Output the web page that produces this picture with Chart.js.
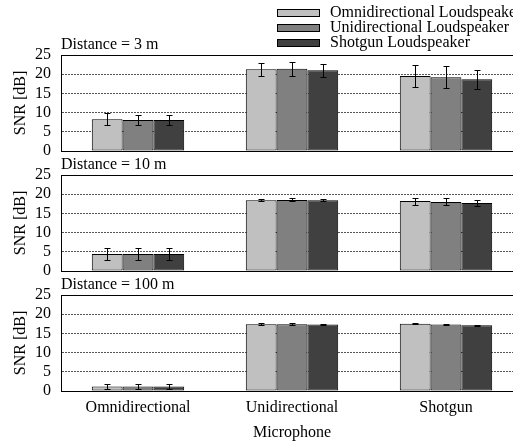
<!DOCTYPE html>
<html><head><meta charset="utf-8">
<script src="https://cdn.jsdelivr.net/npm/chart.js@4.4.1/dist/chart.umd.min.js"></script>
<style>
html,body{margin:0;padding:0;background:#fff;}
#wrap{position:relative;width:513px;height:442px;overflow:hidden;background:#fff;}
.pane{position:absolute;left:0;width:523px;}
canvas{display:block;}
</style></head><body>
<div id="wrap">
  <div class="pane" style="top:0;height:171px"><canvas id="c1" width="523" height="171"></canvas></div>
  <div class="pane" style="top:120px;height:171px"><canvas id="c2" width="523" height="171"></canvas></div>
  <div class="pane" style="top:240px;height:202px"><canvas id="c3" width="523" height="202"></canvas></div>
</div>
<script>
// ---- data ----
const categories = ['Omnidirectional', 'Unidirectional', 'Shotgun'];
const seriesLabels = ['Omnidirectional Loudspeaker', 'Unidirectional Loudspeaker', 'Shotgun Loudspeaker'];
const seriesColors = ['#c0c0c0', '#808080', '#404040'];
const panelTitles = ['Distance = 3 m', 'Distance = 10 m', 'Distance = 100 m'];
const xAxisTitle = 'Microphone';
const yAxisTitle = 'SNR [dB]';
const yTickValues = [0, 5, 10, 15, 20, 25];

// Distance = 3 m
const snr3Omni = [8.3, 21.3, 19.5];
const snr3Uni  = [8.1, 21.4, 19.2];
const snr3Shot = [8.1, 21.0, 18.7];
const err3Omni = [1.6, 1.7, 2.9];
const err3Uni  = [1.4, 1.8, 2.9];
const err3Shot = [1.4, 1.6, 2.5];

// Distance = 10 m
const snr10Omni = [4.4, 18.4, 18.2];
const snr10Uni  = [4.4, 18.5, 18.0];
const snr10Shot = [4.4, 18.4, 17.7];
const err10Omni = [1.5, 0.3, 0.9];
const err10Uni  = [1.5, 0.4, 0.9];
const err10Shot = [1.5, 0.3, 0.8];

// Distance = 100 m
const snr100Omni = [1.2, 17.4, 17.5];
const snr100Uni  = [1.2, 17.4, 17.35];
const snr100Shot = [1.2, 17.35, 17.1];
const err100Omni = [0.7, 0.2, 0.15];
const err100Uni  = [0.7, 0.2, 0.15];
const err100Shot = [0.7, 0.15, 0.2];

const panels = [
  { id: 'c1', title: panelTitles[0], values: [snr3Omni, snr3Uni, snr3Shot], errors: [err3Omni, err3Uni, err3Shot], legend: true, bottom: false },
  { id: 'c2', title: panelTitles[1], values: [snr10Omni, snr10Uni, snr10Shot], errors: [err10Omni, err10Uni, err10Shot], legend: false, bottom: false },
  { id: 'c3', title: panelTitles[2], values: [snr100Omni, snr100Uni, snr100Shot], errors: [err100Omni, err100Uni, err100Shot], legend: false, bottom: true }
];

// ---- styling ----
const FONT = "'Liberation Serif', 'Times New Roman', serif";
const FS = 16;
Chart.defaults.font.family = FONT;
Chart.defaults.font.size = FS;
Chart.defaults.color = '#000';

const errorBarPlugin = {
  id: 'errorBars',
  afterDatasetsDraw(chart) {
    const ctx = chart.ctx;
    const yScale = chart.scales.y;
    ctx.save();
    ctx.strokeStyle = '#000';
    ctx.lineWidth = 1;
    chart.data.datasets.forEach((ds, di) => {
      const meta = chart.getDatasetMeta(di);
      meta.data.forEach((bar, j) => {
        const v = ds.data[j], e = ds.errors[j];
        const x = Math.round(bar.x) + 0.5;
        const yt = Math.round(yScale.getPixelForValue(v + e)) + 0.5;
        const yb = Math.round(yScale.getPixelForValue(v - e)) + 0.5;
        ctx.beginPath();
        ctx.moveTo(x, yt); ctx.lineTo(x, yb);
        ctx.moveTo(x - 3, yt); ctx.lineTo(x + 3, yt);
        ctx.moveTo(x - 3, yb); ctx.lineTo(x + 3, yb);
        ctx.stroke();
      });
    });
    ctx.restore();
  }
};

const stackLegendPlugin = {
  id: 'stackLegend',
  afterDraw(chart, args, opts) {
    if (!opts || !opts.show) return;
    const ctx = chart.ctx;
    ctx.save();
    ctx.font = FS + 'px ' + FONT;
    ctx.textBaseline = 'middle';
    ctx.textAlign = 'left';
    chart.data.datasets.forEach((ds, i) => {
      const cy = opts.rowY[i];
      const top = Math.round(cy - opts.boxH / 2);
      ctx.fillStyle = ds.backgroundColor;
      ctx.fillRect(opts.boxX, top, opts.boxW, opts.boxH);
      ctx.strokeStyle = '#000';
      ctx.lineWidth = 1;
      ctx.strokeRect(opts.boxX + 0.5, top + 0.5, opts.boxW - 1, opts.boxH - 1);
      ctx.fillStyle = '#000';
      ctx.fillText(ds.label, opts.textX, cy);
    });
    ctx.restore();
  }
};

panels.forEach(p => {
  const datasets = seriesLabels.map((lab, i) => ({
    label: lab,
    data: p.values[i],
    errors: p.errors[i],
    backgroundColor: seriesColors[i],
    borderColor: '#000',
    borderWidth: 1,
    borderSkipped: false,
    categoryPercentage: 0.6,
    barPercentage: 1.0
  }));
  new Chart(document.getElementById(p.id), {
    type: 'bar',
    data: { labels: categories, datasets },
    plugins: [errorBarPlugin, stackLegendPlugin],
    options: {
      responsive: false,
      devicePixelRatio: 1,
      animation: false,
      layout: { padding: { top: 34.8, bottom: p.bottom ? 0 : 20, left: 0, right: 0 } },
      plugins: {
        legend: { display: false },
        tooltip: { enabled: false },
        title: {
          display: true, text: p.title, align: 'start', fullSize: false,
          color: '#000', font: { family: FONT, size: FS, weight: 'normal' },
          padding: { top: 0, bottom: 1 }
        },
        stackLegend: { show: p.legend, boxX: 277, boxW: 43, boxH: 8, textX: 330, rowY: [13, 28, 43] }
      },
      scales: {
        x: {
          type: 'category',
          position: 'bottom',
          offset: true,
          grid: { display: false, drawTicks: false },
          border: { display: true, color: '#000', width: 1 },
          ticks: { display: p.bottom, padding: 7, color: '#000', maxRotation: 0, autoSkip: false },
          title: { display: p.bottom, text: xAxisTitle, color: '#000', padding: { top: 0, bottom: 0 } },
          afterFit(scale) { scale.height = p.bottom ? 51 : 0; }
        },
        xTop: {
          type: 'category',
          position: 'top',
          labels: categories,
          grid: { display: false, drawTicks: false },
          border: { display: true, color: '#000', width: 1 },
          ticks: { display: false },
          afterFit(scale) { scale.height = 0; }
        },
        y: {
          min: 0, max: 25,
          afterBuildTicks(scale) { scale.ticks = yTickValues.map(v => ({ value: v })); },
          grid: {
            drawTicks: false,
            color: c => (c.tick && (c.tick.value === 0 || c.tick.value === 25)) ? 'rgba(0,0,0,0)' : '#555',
            lineWidth: 1
          },
          border: { display: true, color: '#000', width: 1, dash: [2, 1] },
          ticks: { padding: 10, color: '#000', autoSkip: false },
          title: { display: true, text: yAxisTitle, color: '#000', padding: { top: 11, bottom: 0 } },
          afterFit(scale) { scale.width = 61; }
        }
      }
    }
  });
});
</script>
</body></html>
